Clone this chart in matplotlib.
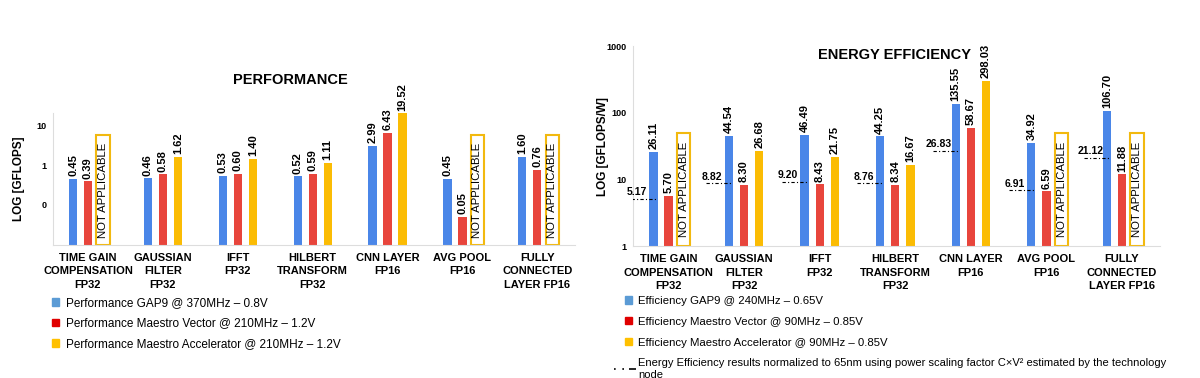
import numpy as np
import matplotlib.pyplot as plt
from matplotlib.patches import Patch
from matplotlib.lines import Line2D

plt.rcParams['font.family'] = ['Liberation Sans', 'DejaVu Sans']

# Категории (общие для обоих графиков)
categories = ['TIME GAIN\nCOMPENSATION\nFP32', 'GAUSSIAN\nFILTER\nFP32', 'IFFT\nFP32',
              'HILBERT\nTRANSFORM\nFP32', 'CNN LAYER\nFP16', 'AVG POOL\nFP16',
              'FULLY\nCONNECTED\nLAYER FP16']

# Производительность, GFLOPS (None = not applicable)
perf_gap9 = [0.45, 0.46, 0.53, 0.52, 2.99, 0.45, 1.60]
perf_vector = [0.39, 0.58, 0.60, 0.59, 6.43, 0.05, 0.76]
perf_accel = [None, 1.62, 1.40, 1.11, 19.52, None, None]

# Энергоэффективность, GFLOPS/W
eff_gap9 = [26.11, 44.54, 46.49, 44.25, 135.55, 34.92, 106.70]
eff_vector = [5.70, 8.30, 8.43, 8.34, 58.67, 6.59, 11.88]
eff_accel = [None, 26.68, 21.75, 16.67, 298.03, None, None]
eff_norm65 = [5.17, 8.82, 9.20, 8.76, 26.83, 6.91, 21.12]

perf_labels = ['Performance GAP9 @ 370MHz – 0.8V',
               'Performance Maestro Vector @ 210MHz – 1.2V',
               'Performance Maestro Accelerator @ 210MHz – 1.2V']
eff_labels = ['Efficiency GAP9 @ 240MHz – 0.65V',
              'Efficiency Maestro Vector @ 90MHz – 0.85V',
              'Efficiency Maestro Accelerator @ 90MHz – 0.85V']
norm_label = ('Energy Efficiency results normalized to 65nm using power scaling factor '
              'C×V² estimated by the technology\nnode')

BLUE, RED, YELLOW = '#4a86e8', '#e8453c', '#fbbc04'
GOLD = '#f2b90f'
x = np.arange(len(categories))
off = 0.2
bw = 0.11
na_w = 0.18


def draw_group(ax, series, na_top, ylim):
    colors = [BLUE, RED, YELLOW]
    for k, vals in enumerate(series):
        xs = x + (k - 1) * off
        for xi, v in zip(xs, vals):
            if v is None:
                ax.bar(xi, na_top - ylim[0], bottom=ylim[0], width=na_w,
                       color='white', edgecolor=GOLD, linewidth=1.5, zorder=2)
                ax.text(xi, np.sqrt(ylim[0] * na_top), 'NOT APPLICABLE', rotation=90,
                        ha='center', va='center', fontsize=8.2, zorder=3)
            else:
                ax.bar(xi, v - ylim[0], bottom=ylim[0], width=bw, color=colors[k], zorder=2)
                ax.annotate(f'{v:.2f}', (xi, v), xytext=(0, 2), textcoords='offset points',
                            rotation=90, ha='center', va='bottom', fontsize=8, fontweight='bold')
    ax.set_yscale('log')
    ax.set_ylim(*ylim)
    ax.set_xlim(-0.47, len(categories) - 0.5)
    ax.set_xticks(x)
    ax.set_xticklabels(categories, fontsize=8, fontweight='bold', linespacing=1.4)
    ax.tick_params(axis='x', length=0, pad=6)
    ax.tick_params(axis='y', length=0, labelsize=6.5, pad=4.5)
    ax.minorticks_off()
    for s in ['top', 'right']:
        ax.spines[s].set_visible(False)
    for s in ['left', 'bottom']:
        ax.spines[s].set_color('#dddddd')
        ax.spines[s].set_linewidth(0.8)


fig = plt.figure(figsize=(12, 3.78), dpi=100)

# Левый график - производительность
ax1 = fig.add_axes([0.044, 0.352, 0.435, 0.349])
draw_group(ax1, [perf_gap9, perf_vector, perf_accel], 5.6, (0.01, 20))
ax1.set_yticks([10, 1, 0.1])
ax1.set_yticklabels(['10', '1', '0'])
for lab in ax1.get_yticklabels():
    lab.set_fontweight('bold')
ax1.set_ylabel('LOG [GFLOPS]', fontsize=8.5, fontweight='bold', labelpad=8)
fig.text(290 / 1200, 1 - 80 / 378, 'PERFORMANCE', ha='center', va='center',
         fontsize=10.5, fontweight='bold')

# Правый график - энергоэффективность
ax2 = fig.add_axes([0.5275, 0.349, 0.439, 0.529])
draw_group(ax2, [eff_gap9, eff_vector, eff_accel], 49, (1, 1000))
ax2.set_yticks([1, 10, 100, 1000])
ax2.set_yticklabels(['1', '10', '100', '1000'])
for lab in ax2.get_yticklabels():
    lab.set_fontweight('bold')
ax2.set_ylabel('LOG [GFLOPS/W]', fontsize=8.5, fontweight='bold', labelpad=-2)
fig.text(895 / 1200, 1 - 55 / 378, 'ENERGY EFFICIENCY', ha='center', va='center',
         fontsize=10.5, fontweight='bold')

# Нормализованные значения (65nm)
for xi, v in zip(x, eff_norm65):
    ax2.plot([xi - 0.5, xi - 0.16], [v, v], color='black', lw=0.8,
             linestyle=(0, (3, 2, 1, 2)), zorder=3)
    ax2.annotate(f'{v:.2f}', (xi - 0.42, v), xytext=(0, 1), textcoords='offset points',
                 ha='center', va='bottom', fontsize=7.5, fontweight='bold')

# Легенды
h1 = [Patch(color=c) for c in ['#5b9bd5', '#e00000', '#ffc000']]
fig.legend(h1, perf_labels, loc='upper left', bbox_to_anchor=(52 / 1200, 1 - 297 / 378),
           frameon=False, fontsize=8.5, handlelength=0.6, handleheight=0.6,
           handletextpad=0.6, labelspacing=0.72, borderpad=0, borderaxespad=0)
fig.legend(h1, eff_labels, loc='upper left', bbox_to_anchor=(625 / 1200, 1 - 296 / 378),
           frameon=False, fontsize=8.2, handlelength=0.6, handleheight=0.6,
           handletextpad=0.55, labelspacing=0.95, borderpad=0, borderaxespad=0)
h2 = [Line2D([0], [0], color='black', lw=1.2, linestyle=(0, (1, 4, 1, 3, 8, 20)))]
fig.legend(h2, [norm_label], loc='upper left', bbox_to_anchor=(614 / 1200, 1 - 358 / 378),
           frameon=False, fontsize=8, handlelength=2.0, handletextpad=0.15,
           labelspacing=0.2, borderpad=0, borderaxespad=0)

plt.savefig('out.png', dpi=100)
